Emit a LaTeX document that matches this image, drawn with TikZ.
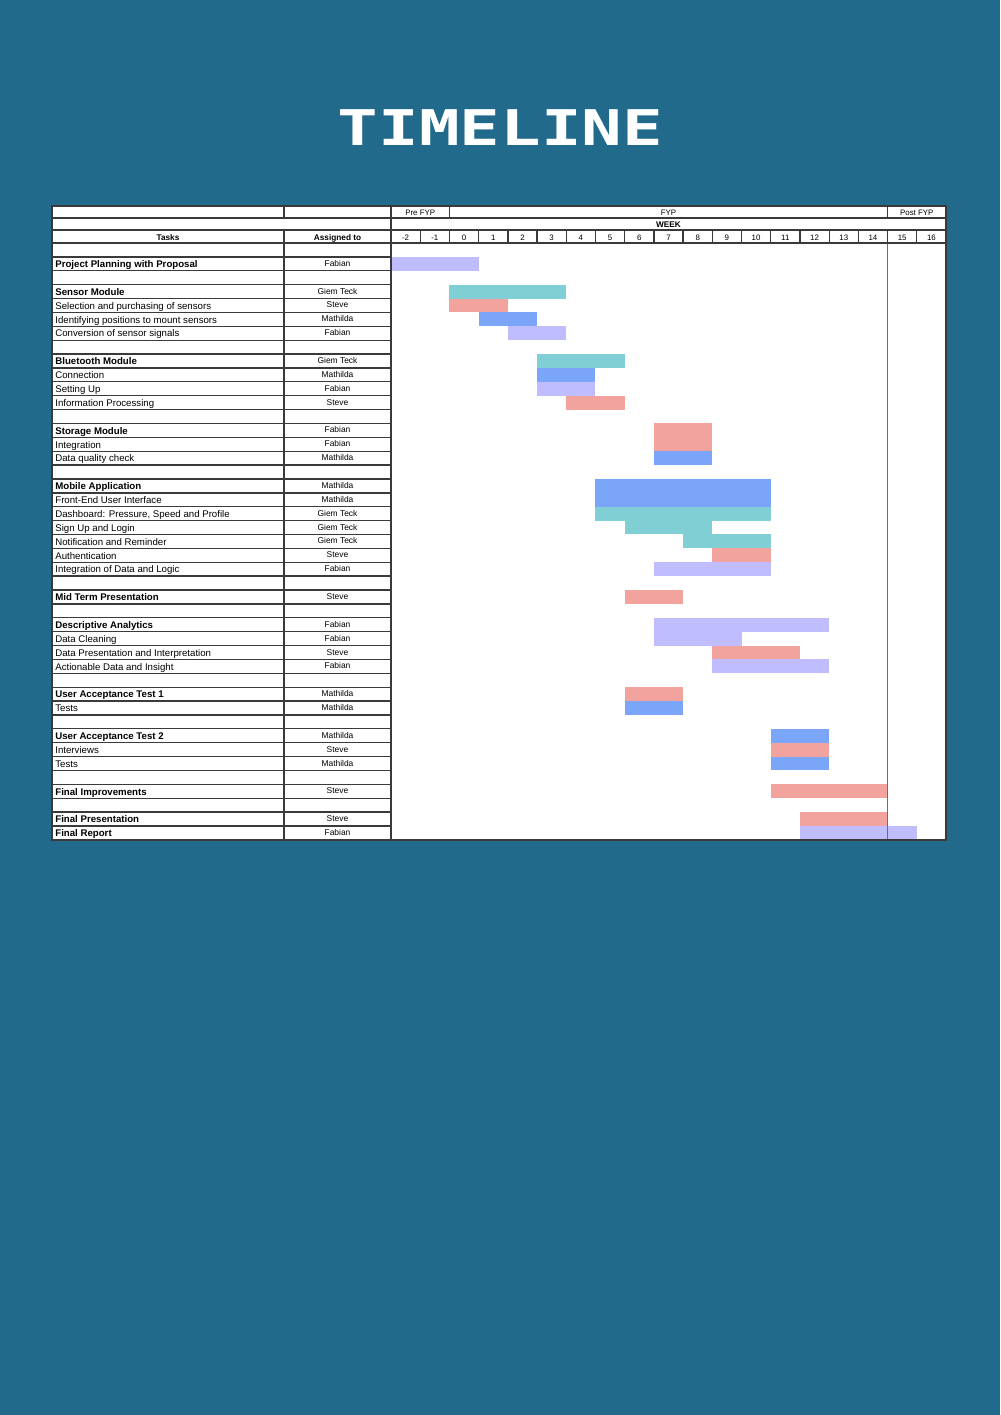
\documentclass[tikz,border=0pt]{standalone}
\usepackage{fontspec}
\setmainfont{Liberation Sans}
\newfontfamily\titlefont{DejaVu Sans Mono}
\usepackage{xcolor}
\usepackage{graphicx}
\usepackage{tikz}
\usetikzlibrary{calc}

\definecolor{pagebg}{HTML}{216A8B}
\definecolor{barlav}{HTML}{BFBDFE}
\definecolor{barteal}{HTML}{7FCFD5}
\definecolor{barsal}{HTML}{F3A39E}
\definecolor{barblue}{HTML}{7AA5F9}
\definecolor{gridc}{HTML}{3A3A3A}
\definecolor{nowline}{HTML}{E8383A}

\begin{document}
\begin{tikzpicture}[x=0.02cm, y=-0.02cm,
    grid/.style={draw=gridc, line width=0.75pt},
    hdr/.style={inner sep=0pt, anchor=base, font=\fontsize{4.5}{5}\selectfont},
    hdrbold/.style={hdr, font=\fontsize{4.7}{5}\selectfont\bfseries},
    tasknorm/.style={inner sep=0pt, anchor=base west, font=\fontsize{5.5}{6}\selectfont},
    taskbold/.style={tasknorm, font=\fontsize{5.5}{6}\selectfont\bfseries},
    who/.style={inner sep=0pt, anchor=base, font=\fontsize{4.8}{5}\selectfont}]

    \def\rh{13.88}  % body row height
    \def\wx{29.21}  % one week column

    % --- PAGE ---
    \fill[pagebg] (0,0) rectangle (1000,1415);
    \useasboundingbox (0,0) rectangle (1000,1415);

    \node[text=white, inner sep=0pt, anchor=base, font=\titlefont\bfseries] (title) at (500.5,146) {\resizebox{185pt}{20.4pt}{TIMELINE}};

    % --- TABLE BACKGROUND ---
    \fill[white] (52,206) rectangle (946,840);

    % --- BARS: row / first week / last week / colour / rows spanned ---
    \foreach \r/\a/\b/\c/\n in {1/-2/0/barlav/1, 3/0/3/barteal/1, 4/0/1/barsal/1, 5/1/2/barblue/1,
            6/2/3/barlav/1, 8/3/5/barteal/1, 9/3/4/barblue/1, 10/3/4/barlav/1, 11/4/5/barsal/1,
            13/7/8/barsal/2, 15/7/8/barblue/1, 17/5/10/barblue/2, 19/5/10/barteal/1,
            20/6/8/barteal/1, 21/8/10/barteal/1, 22/9/10/barsal/1, 23/7/10/barlav/1,
            25/6/7/barsal/1, 27/7/12/barlav/1, 28/7/9/barlav/1, 29/9/11/barsal/1,
            30/9/12/barlav/1, 32/6/7/barsal/1, 33/6/7/barblue/1, 35/11/12/barblue/1,
            36/11/12/barsal/1, 37/11/12/barblue/1, 39/11/14/barsal/1, 41/12/14/barsal/1,
            42/12/15/barlav/1}
        \fill[\c] ({391+(\a+2)*\wx},{243+\r*\rh}) rectangle ({391+(\b+3)*\wx},{243+(\r+\n)*\rh});

    % --- END OF FYP MARKER ---
    \coordinate (now-top) at ({391+17*\wx-0.8},243);
    \coordinate (now-bot) at ({391+17*\wx+0.8},840);
    \fill[nowline] (now-top) rectangle (now-bot);

    % --- GRID ---
    \foreach \y in {206,218,230,243}
        \draw[grid] (52,\y) -- (946,\y);
    \foreach \r in {1,...,42}
        \draw[grid] (52,{243+\r*\rh}) -- (391,{243+\r*\rh});
    \draw[grid] (52,206) rectangle (946,840);
    \draw[grid] (284,206) -- (284,218);
    \draw[grid] (284,230) -- (284,840);
    \draw[grid] (391,206) -- (391,840);
    \draw[grid] ({391+2*\wx},206) -- ({391+2*\wx},218);
    \draw[grid] ({391+17*\wx},206) -- ({391+17*\wx},218);
    \foreach \i in {1,...,18}
        \draw[grid] ({391+\i*\wx},230) -- ({391+\i*\wx},243);

    % --- HEADER ---
    \node[hdr] (pre) at ({391+1*\wx},215.5) {Pre FYP};
    \node[hdr] (fyp) at ({391+9.5*\wx},215.5) {FYP};
    \node[hdr] (post) at ({391+18*\wx},215.5) {Post FYP};
    \node[hdrbold] (week) at ({391+9.5*\wx},227.8) {WEEK};
    \node[hdrbold] (tasks) at (168,240.3) {Tasks};
    \node[hdrbold] (assigned) at (337.5,240.3) {Assigned to};
    \foreach \w [count=\i from 0] in {-2,...,16}
        \node[hdr] (wk-\i) at ({391+(\i+0.5)*\wx},240.3) {\w};

    % --- TASK ROWS: row / task / assigned to / style ---
    \foreach \r/\t/\w/\s in {1/{Project Planning with Proposal}/Fabian/taskbold,
            3/{Sensor Module}/{Giem Teck}/taskbold,
            4/{Selection and purchasing of sensors}/Steve/tasknorm,
            5/{Identifying positions to mount sensors}/Mathilda/tasknorm,
            6/{Conversion of sensor signals}/Fabian/tasknorm,
            8/{Bluetooth Module}/{Giem Teck}/taskbold,
            9/{Connection}/Mathilda/tasknorm,
            10/{Setting Up}/Fabian/tasknorm,
            11/{Information Processing}/Steve/tasknorm,
            13/{Storage Module}/Fabian/taskbold,
            14/{Integration}/Fabian/tasknorm,
            15/{Data quality check}/Mathilda/tasknorm,
            17/{Mobile Application}/Mathilda/taskbold,
            18/{Front-End User Interface}/Mathilda/tasknorm,
            19/{Dashboard: Pressure, Speed and Profile}/{Giem Teck}/tasknorm,
            20/{Sign Up and Login}/{Giem Teck}/tasknorm,
            21/{Notification and Reminder}/{Giem Teck}/tasknorm,
            22/{Authentication}/Steve/tasknorm,
            23/{Integration of Data and Logic}/Fabian/tasknorm,
            25/{Mid Term Presentation}/Steve/taskbold,
            27/{Descriptive Analytics}/Fabian/taskbold,
            28/{Data Cleaning}/Fabian/tasknorm,
            29/{Data Presentation and Interpretation}/Steve/tasknorm,
            30/{Actionable Data and Insight}/Fabian/tasknorm,
            32/{User Acceptance Test 1}/Mathilda/taskbold,
            33/{Tests}/Mathilda/tasknorm,
            35/{User Acceptance Test 2}/Mathilda/taskbold,
            36/{Interviews}/Steve/tasknorm,
            37/{Tests}/Mathilda/tasknorm,
            39/{Final Improvements}/Steve/taskbold,
            41/{Final Presentation}/Steve/taskbold,
            42/{Final Report}/Fabian/taskbold}
    {
        \node[\s] (task-\r) at (55,{243+(\r+1)*\rh-3.2}) {\t};
        \node[who] (who-\r) at (337.5,{243+(\r+1)*\rh-4.4}) {\w};
    }

\end{tikzpicture}
\end{document}
